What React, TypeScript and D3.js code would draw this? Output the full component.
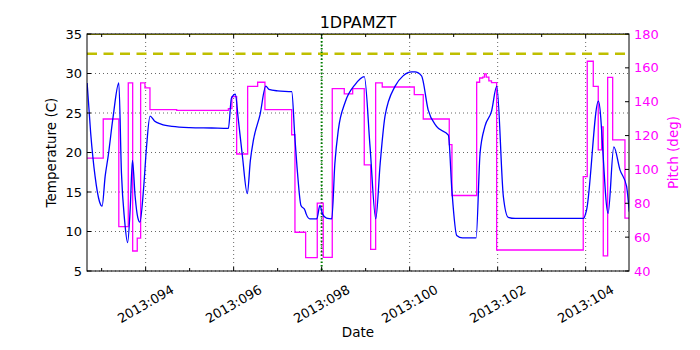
import * as d3 from "d3";

// 1DPAMZT temperature (deg C) vs day of year 2013
const tempDays = [
  92.67, 92.75, 92.85, 92.95, 93.01, 93.08, 93.15, 93.26, 93.39, 93.45, 93.52, 93.59, 93.65, 93.7,
  93.76, 93.82, 93.87, 93.95, 94.02, 94.1, 94.2, 94.35, 94.6, 95.0, 95.5, 95.88, 95.95, 96.04, 96.1,
  96.2, 96.31, 96.38, 96.45, 96.6, 96.73, 96.8, 97.0, 97.32, 97.39, 97.45, 97.53, 97.62, 97.65, 97.73,
  97.89, 97.96, 98.02, 98.11, 98.23, 98.3, 98.38, 98.53, 98.76, 98.97, 99.1, 99.23, 99.33, 99.44,
  99.67, 99.85, 100.05, 100.12, 100.27, 100.42, 100.61, 100.88, 100.96, 101.07, 101.2, 101.51, 101.6,
  101.71, 101.86, 101.98, 102.13, 102.24, 102.4, 103.95, 104.02, 104.29, 104.51, 104.64, 104.78,
  104.93, 104.99,
];
const tempValues = [
  28.8, 22.5, 17.0, 13.8, 13.2, 17.0, 19.6, 24.5, 28.8, 17.4, 11.5, 8.6, 13.0, 19.0,
  14.5, 11.8, 11.2, 15.2, 20.7, 24.6, 24.0, 23.6, 23.3, 23.15, 23.1, 23.05, 26.9, 27.4, 24.5,
  19.5, 14.8, 19.0, 21.6, 24.8, 28.4, 28.0, 27.8, 27.7, 22.0, 17.5, 13.3, 12.7, 12.2, 11.6,
  11.6, 13.3, 12.2, 11.7, 11.6, 18.6, 22.9, 26.3, 28.6, 29.6, 20.7, 11.6, 18.6, 24.6,
  28.4, 29.7, 30.2, 30.2, 29.7, 25.4, 23.3, 22.2, 15.2, 9.5, 9.2, 9.2, 19.9,
  23.3, 25.2, 28.4, 14.4, 11.8, 11.65, 11.65, 12.7, 26.5, 12.3, 20.7, 17.8,
  15.7, 12.5,
];

// pitch (deg), step changes: start day and value
const pitchDays = [
  92.67, 93.036, 93.39, 93.605, 93.705, 93.809, 93.886, 93.984, 94.098, 94.705, 95.88, 95.96, 96.068,
  96.318, 96.545, 96.711, 97.318, 97.393, 97.636, 97.9, 98.036, 98.241, 98.514, 98.705, 98.968,
  99.114, 99.227, 99.377, 100.105, 100.309, 100.9, 100.961, 101.523, 101.59, 101.66, 101.7, 101.74,
  101.8, 101.86, 101.977, 103.945, 104.036, 104.173, 104.286, 104.364, 104.4, 104.5, 104.614,
  104.893, 104.99,
];
const pitchValues = [
  106.7, 129.8, 66.2, 151.1, 51.8, 59.4, 151.1, 148.2, 135.3, 134.9, 135.9, 143.0, 109.1,
  149.1, 151.5, 135.3, 120.5, 62.9, 47.9, 80.1, 48.0, 147.7, 144.6, 147.7, 102.7,
  52.8, 151.1, 148.7, 144.2, 129.8, 114.6, 84.6, 151.5, 154.0, 154.5, 156.5, 154.5,
  152.3, 151.3, 52.4, 95.8, 163.9, 149.1, 111.6, 125.1, 48.9, 154.4, 117.5,
  71.2, 71.2,
];

const tempTicks = [5, 10, 15, 20, 25, 30, 35];
const pitchTicks = [40, 60, 80, 100, 120, 140, 160, 180];
const dateTicks = [94, 96, 98, 100, 102, 104];
const dateMinorTicks = [93, 95, 97, 99, 101, 103];
const dateTickLabels = ["2013:094", "2013:096", "2013:098", "2013:100", "2013:102", "2013:104"];
const planningLimit = 32.5;
const cautionLimit = 35;
const markerDay = 98.0;

const W = 700;
const H = 350;
const left = 87;
const right = 629;
const top = 34;
const bottom = 271;
const font = "DejaVu Sans, sans-serif";

export default function App() {
  const x = d3.scaleLinear().domain([92.667, 104.985]).range([left, right]);
  const yT = d3.scaleLinear().domain([5, 35]).range([bottom, top]);
  const yP = d3.scaleLinear().domain([40, 180]).range([bottom, top]);

  const tempLine = d3
    .line<number>()
    .x((d) => x(d))
    .y((d, i) => yT(tempValues[i]))
    .curve(d3.curveMonotoneX);

  const pitchLine = d3
    .line<number>()
    .x((d) => x(d))
    .y((d, i) => yP(pitchValues[i]))
    .curve(d3.curveStepAfter);

  return (
    <svg
      width={W}
      height={H}
      style={{ position: "absolute", left: 0, top: 0, background: "#fff" }}
      fontFamily={font}
    >
      <defs>
        <clipPath id="plot">
          <rect x={left} y={top} width={right - left} height={bottom - top} />
        </clipPath>
      </defs>

      {/* grid */}
      {dateTicks.map((d) => (
        <line key={"gx" + d} x1={x(d)} x2={x(d)} y1={top} y2={bottom} stroke="#000" strokeWidth={0.6} strokeDasharray="1,3" />
      ))}
      {tempTicks.map((t) => (
        <line key={"gy" + t} x1={left} x2={right} y1={yT(t)} y2={yT(t)} stroke="#000" strokeWidth={0.6} strokeDasharray="1,3" />
      ))}

      <g clipPath="url(#plot)">
        <line x1={left} x2={right} y1={yT(cautionLimit)} y2={yT(cautionLimit)} stroke="#bfbf00" strokeWidth={2} />
        <line
          x1={left}
          x2={right}
          y1={yT(planningLimit)}
          y2={yT(planningLimit)}
          stroke="#bfbf00"
          strokeWidth={2.5}
          strokeDasharray="10,6.5"
        />
        <line
          x1={x(markerDay)}
          x2={x(markerDay)}
          y1={top}
          y2={bottom}
          stroke="#008000"
          strokeWidth={2}
          strokeDasharray="1.5,2"
        />
        <path d={pitchLine(pitchDays) ?? ""} fill="none" stroke="#ff00ff" strokeWidth={1.3} />
        <path d={tempLine(tempDays) ?? ""} fill="none" stroke="#0000ff" strokeWidth={1.3} />
      </g>

      {/* frame */}
      <rect x={left} y={top} width={right - left} height={bottom - top} fill="none" stroke="#000" strokeWidth={1} />

      {/* x ticks */}
      {dateTicks.map((d) => (
        <g key={"xt" + d}>
          <line x1={x(d)} x2={x(d)} y1={bottom} y2={bottom - 4} stroke="#000" />
          <line x1={x(d)} x2={x(d)} y1={top} y2={top + 4} stroke="#000" />
        </g>
      ))}
      {dateMinorTicks.map((d) => (
        <g key={"xm" + d}>
          <line x1={x(d)} x2={x(d)} y1={bottom} y2={bottom - 3} stroke="#000" />
          <line x1={x(d)} x2={x(d)} y1={top} y2={top + 3} stroke="#000" />
        </g>
      ))}
      {dateTickLabels.map((label, i) => (
        <text
          key={label}
          transform={`translate(${x(dateTicks[i])},${bottom + 33}) rotate(-30)`}
          textAnchor="middle"
          dominantBaseline="central"
          fontSize={13}
        >
          {label}
        </text>
      ))}

      {/* left axis */}
      {tempTicks.map((t) => (
        <g key={"yt" + t}>
          <line x1={left} x2={left + 4} y1={yT(t)} y2={yT(t)} stroke="#000" />
          <text x={left - 5} y={yT(t)} textAnchor="end" dominantBaseline="central" fontSize={13}>
            {t}
          </text>
        </g>
      ))}

      {/* right axis */}
      {pitchTicks.map((p) => (
        <g key={"pt" + p}>
          <line x1={right} x2={right - 4} y1={yP(p)} y2={yP(p)} stroke="#000" />
          <text x={right + 5} y={yP(p)} textAnchor="start" dominantBaseline="central" fontSize={13} fill="#ff00ff">
            {p}
          </text>
        </g>
      ))}

      <text x={(left + right) / 2} y={28} textAnchor="middle" fontSize={16}>
        1DPAMZT
      </text>
      <text x={(left + right) / 2} y={337} textAnchor="middle" fontSize={13.5}>
        Date
      </text>
      <text
        transform={`translate(56,${(top + bottom) / 2}) rotate(-90)`}
        textAnchor="middle"
        fontSize={13.5}
      >
        Temperature (C)
      </text>
      <text
        transform={`translate(678,${(top + bottom) / 2}) rotate(-90)`}
        textAnchor="middle"
        fontSize={13.5}
        fill="#ff00ff"
      >
        Pitch (deg)
      </text>
    </svg>
  );
}
